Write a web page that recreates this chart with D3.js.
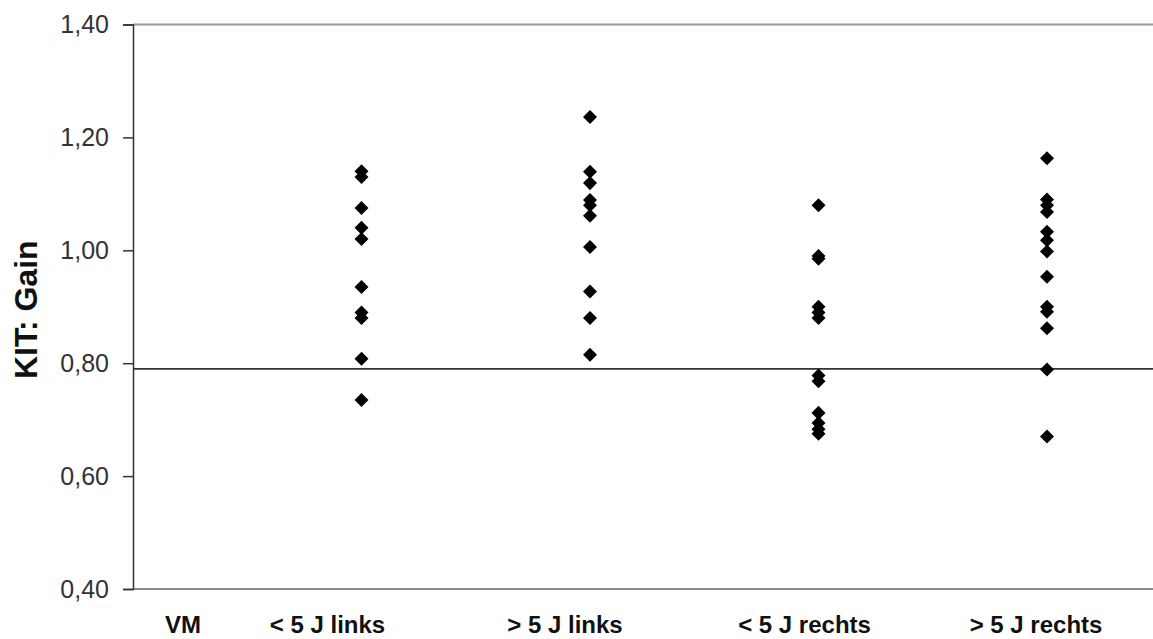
<!DOCTYPE html>
<html>
<head>
<meta charset="utf-8">
<script src="https://cdn.jsdelivr.net/npm/d3@7"></script>
<style>
  html, body { margin: 0; padding: 0; background: #fff; }
  svg { display: block; }
</style>
</head>
<body>
<svg id="chart" width="1153" height="639"></svg>
<script>
// ---- data ----
const categories = ["VM", "< 5 J links", "> 5 J links", "< 5 J rechts", "> 5 J rechts"];
const vmValues = [];
const linksUnder5 = [1.14, 1.13, 1.075, 1.04, 1.02, 0.935, 0.89, 0.88, 0.808, 0.735];
const linksOver5 = [1.236, 1.139, 1.119, 1.089, 1.08, 1.061, 1.006, 0.927, 0.88, 0.815];
const rechtsUnder5 = [1.08, 0.99, 0.985, 0.90, 0.89, 0.88, 0.778, 0.768, 0.712, 0.694, 0.683, 0.675];
const rechtsOver5 = [1.163, 1.09, 1.08, 1.068, 1.033, 1.018, 0.998, 0.953, 0.90, 0.891, 0.862, 0.789, 0.670];
const referenceValue = 0.79;
const yTicks = [0.4, 0.6, 0.8, 1.0, 1.2, 1.4];
const yTitle = "KIT: Gain";

const seriesValues = [vmValues, linksUnder5, linksOver5, rechtsUnder5, rechtsOver5];

// ---- layout ----
const svg = d3.select("#chart");
const plotLeft = 133, plotRight = 1153, plotTop = 24.5, plotBottom = 589;
const y = d3.scaleLinear().domain([0.4, 1.4]).range([plotBottom, plotTop]);
const x = d3.scalePoint().domain(categories).range([plotLeft, 1047]);
const labelShift = [50, -34, -25, -14, -11];
const fmt = v => d3.format(".2f")(v).replace(".", ",");

// top border line
svg.append("line")
  .attr("x1", plotLeft).attr("x2", plotRight)
  .attr("y1", y(1.4)).attr("y2", y(1.4))
  .attr("stroke", "#9a9a9a").attr("stroke-width", 2);

// bottom axis line
svg.append("line")
  .attr("x1", plotLeft).attr("x2", plotRight)
  .attr("y1", y(0.4)).attr("y2", y(0.4))
  .attr("stroke", "#8a8a8a").attr("stroke-width", 2);

// y axis
const yAxis = d3.axisLeft(y).tickValues(yTicks).tickSize(10).tickPadding(14).tickFormat(fmt);
const gy = svg.append("g").attr("transform", `translate(${plotLeft},0)`).call(yAxis);
gy.select(".domain").attr("stroke", "#333").attr("stroke-width", 1.5);
gy.selectAll(".tick line").attr("stroke", "#333").attr("stroke-width", 1.5);
gy.selectAll(".tick text")
  .attr("font-family", "Liberation Sans, Arial, sans-serif")
  .attr("font-size", 25).attr("fill", "#333");

// reference line
svg.append("line")
  .attr("x1", plotLeft).attr("x2", plotRight)
  .attr("y1", y(referenceValue)).attr("y2", y(referenceValue))
  .attr("stroke", "#333").attr("stroke-width", 1.8);

// points
const points = [];
seriesValues.forEach((vals, i) => vals.forEach(v => points.push({ c: categories[i], v })));
svg.append("g").selectAll("path")
  .data(points).enter().append("path")
  .attr("d", d3.symbol(d3.symbolDiamond2, 125))
  .attr("transform", d => `translate(${x(d.c)},${y(d.v)})`)
  .attr("fill", "#000");

// category labels
svg.append("g").selectAll("text")
  .data(categories).enter().append("text")
  .attr("x", (d, i) => x(d) + labelShift[i])
  .attr("y", 633)
  .attr("text-anchor", "middle")
  .attr("font-family", "Liberation Sans, Arial, sans-serif")
  .attr("font-weight", "bold")
  .attr("font-size", 24)
  .attr("fill", "#111")
  .text(d => d);

// y title
svg.append("text")
  .attr("transform", `translate(37,${(plotBottom + plotTop) / 2 + 3}) rotate(-90)`)
  .attr("text-anchor", "middle")
  .attr("font-family", "Liberation Sans, Arial, sans-serif")
  .attr("font-weight", "bold")
  .attr("font-size", 32)
  .attr("fill", "#111")
  .text(yTitle);
</script>
</body>
</html>
